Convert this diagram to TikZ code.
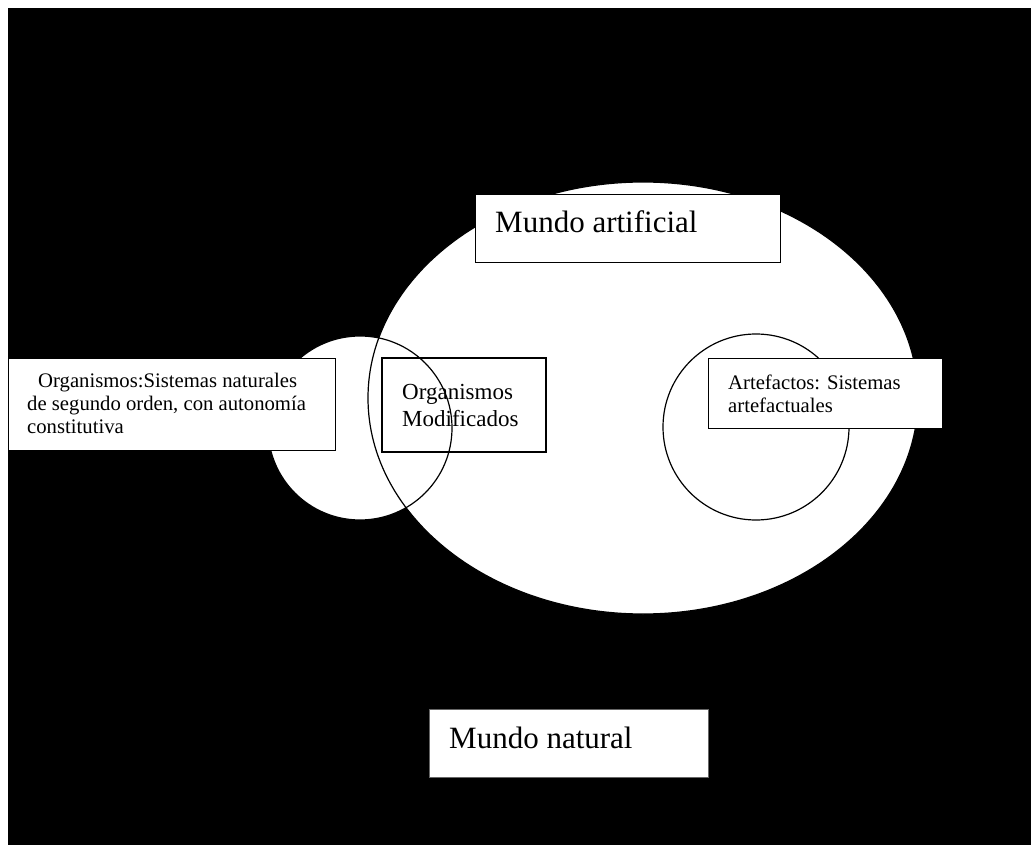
\documentclass[tikz,border=0pt]{standalone}
\usepackage{fontspec}
\setmainfont{Liberation Serif}
\begin{document}
\begin{tikzpicture}[x=1pt,y=-1pt,
  box/.style={draw=black, fill=white, line width=1pt, rectangle, inner sep=0pt},
  thickbox/.style={box, line width=2pt},
  txt/.style={anchor=base west, inner sep=0pt, text=black},
  big/.style={font=\fontsize{31}{36}\selectfont},
  mid/.style={font=\fontsize{23}{27}\selectfont},
  small/.style={font=\fontsize{20.7}{24}\selectfont},
  outline/.style={draw=black, line width=1.2pt}]
\useasboundingbox (0,0) rectangle (1031,845);
\fill[black] (8,8) rectangle (1031,845);
% white regions
\fill[white] (360,428) circle (92);
\fill[white] (643,398) ellipse (275 and 216);
% outlines
\draw[outline] (360,428) circle (92);
\draw[outline] (643,398) ellipse (275 and 216);
\draw[outline] (756,427) circle (93);
% Mundo artificial
\node[box, minimum width=305pt, minimum height=68pt] (artif) at (627.5,229) {};
\node[txt, big] (artifT) at (495,233) {Mundo artificial};
% Organismos
\node[box, minimum width=327pt, minimum height=92pt] (org) at (171.5,404) {};
\node[txt, small] (orgT1) at (38,387) {Organismos:Sistemas naturales};
\node[txt, small] (orgT2) at (27,410) {de segundo orden, con autonomía};
\node[txt, small] (orgT3) at (27,433) {constitutiva};
% Organismos Modificados
\node[thickbox, fill=none, minimum width=164pt, minimum height=94pt] (mod) at (464,405) {};
\node[txt, mid] (modT1) at (402,399) {Organismos};
\node[txt, mid] (modT2) at (402,426) {Modificados};
% Artefactos
\node[box, minimum width=234pt, minimum height=70pt] (arte) at (825,393) {};
\node[txt, small] (arteT1) at (728,389) {Artefactos: Sistemas};
\node[txt, small] (arteT2) at (728,412) {artefactuales};
% Mundo natural
\node[box, draw=black!60, minimum width=279pt, minimum height=68pt] (nat) at (568.5,743) {};
\node[txt, big] (natT) at (449,748) {Mundo natural};
\end{tikzpicture}
\end{document}
